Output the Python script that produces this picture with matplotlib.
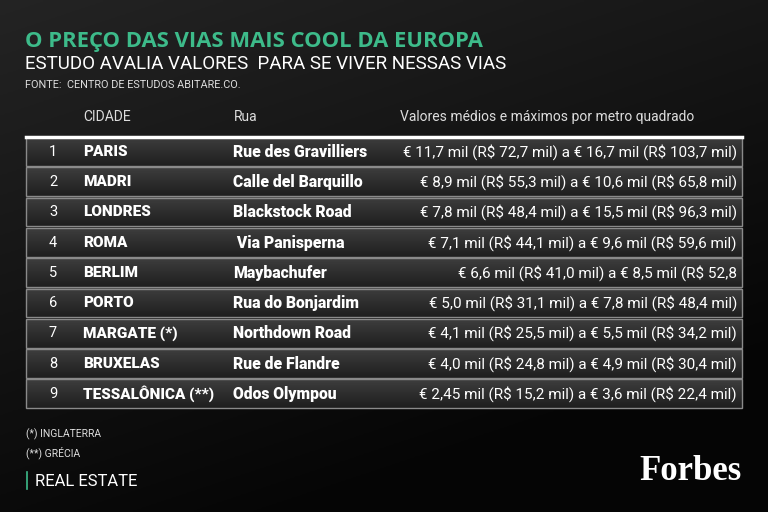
import matplotlib
matplotlib.use("Agg")
import matplotlib.pyplot as plt
import numpy as np
from matplotlib.patches import Rectangle

plt.rcParams['text.parse_math'] = False

ranks = [1, 2, 3, 4, 5, 6, 7, 8, 9]
cities = ["PARIS", "MADRI", "LONDRES", "ROMA", "BERLIM", "PORTO", "MARGATE (*)", "BRUXELAS", "TESSALÔNICA (**)"]
streets = ["Rue des Gravilliers", "Calle del Barquillo", "Blackstock Road", " Via Panisperna",
           "Maybachufer", "Rua do Bonjardim", "Northdown Road", "Rue de Flandre", "Odos Olympou"]
values = ["€ 11,7 mil (R$ 72,7 mil) a € 16,7 mil (R$ 103,7 mil)",
          "€ 8,9 mil (R$ 55,3 mil) a € 10,6 mil (R$ 65,8 mil)",
          "€ 7,8 mil (R$ 48,4 mil) a € 15,5 mil (R$ 96,3 mil)",
          "€ 7,1 mil (R$ 44,1 mil) a € 9,6 mil (R$ 59,6 mil)",
          "€ 6,6 mil (R$ 41,0 mil) a € 8,5 mil (R$ 52,8",
          "€ 5,0 mil (R$ 31,1 mil) a € 7,8 mil (R$ 48,4 mil)",
          "€ 4,1 mil (R$ 25,5 mil) a € 5,5 mil (R$ 34,2 mil)",
          "€ 4,0 mil (R$ 24,8 mil) a € 4,9 mil (R$ 30,4 mil)",
          "€ 2,45 mil (R$ 15,2 mil) a € 3,6 mil (R$ 22,4 mil)"]
headers = ["CIDADE", "Rua", "Valores médios e máximos por metro quadrado"]

fig = plt.figure(figsize=(7.68, 5.12), dpi=100)
ax = fig.add_axes([0, 0, 1, 1])
ax.set_xlim(0, 768); ax.set_ylim(512, 0); ax.axis("off")

yy, xx = np.mgrid[0:1:200j, 0:1:300j]
g = np.clip(0.14 - 0.10 * yy - 0.05 * xx, 0.02, 1)
ax.imshow(np.dstack([g, g, g]), extent=[0, 768, 512, 0], aspect="auto", zorder=0)

F = "Roboto"
green = "#3dbb8a"
ax.text(25, 42, "O PREÇO DAS VIAS MAIS COOL DA EUROPA", color=green, fontsize=15.8,
        fontweight="bold", family="Open Sans", va="center")
ax.text(25, 64, "ESTUDO AVALIA VALORES  PARA SE VIVER NESSAS VIAS", color="white", fontsize=13.5,
        family=F, va="center")
ax.text(25, 85, "FONTE:  CENTRO DE ESTUDOS ABITARE.CO.", color="#dddddd", fontsize=7.8,
        family=F, va="center")

ax.text(83, 117, headers[0], color="#dddddd", fontsize=10, family=F, va="center")
ax.text(234, 117, headers[1], color="#dddddd", fontsize=10, family=F, va="center")
ax.text(400, 117, headers[2], color="#dddddd", fontsize=10, family=F, va="center")

ax.plot([26, 742], [136.5, 136.5], color="white", lw=2.5, zorder=3)
step = 30.3
for i in range(len(ranks)):
    top = 137 + i * step
    grad = np.linspace(0.24, 0.12, 20).reshape(-1, 1)
    ax.imshow(np.dstack([grad, grad, grad]), extent=[26, 742, top + step - 1.5, top],
              aspect="auto", zorder=1)
    ax.add_patch(Rectangle((26, top), 716, step - 1.5, fill=False, ec="#8a8a8a", lw=1, zorder=2))
    yc = top + step / 2 - 0.5
    ax.text(53, yc, str(ranks[i]), color="white", fontsize=10.5, family=F, va="center", ha="center")
    ax.text(83, yc, cities[i], color="white", fontsize=11, fontweight="black", family=F, va="center")
    ax.text(233, yc, streets[i], color="white", fontsize=11.3, fontweight="black", family=F, va="center")
    ax.text(737, yc, values[i], color="white", fontsize=11, family=F, va="center", ha="right")

ax.text(26, 434, "(*) INGLATERRA", color="#dddddd", fontsize=7.5, family=F, va="center")
ax.text(26, 453, "(**) GRÉCIA", color="#dddddd", fontsize=7.5, family=F, va="center")
ax.plot([27, 27], [472, 489], color=green, lw=1.2)
ax.text(35, 481, "REAL ESTATE", color="white", fontsize=12, family=F, va="center")
ax.text(742, 471, "Forbes", color="white", fontsize=25, fontweight="bold", family="Liberation Serif",
        va="center", ha="right")

fig.savefig("out.png", dpi=100, facecolor="black")
